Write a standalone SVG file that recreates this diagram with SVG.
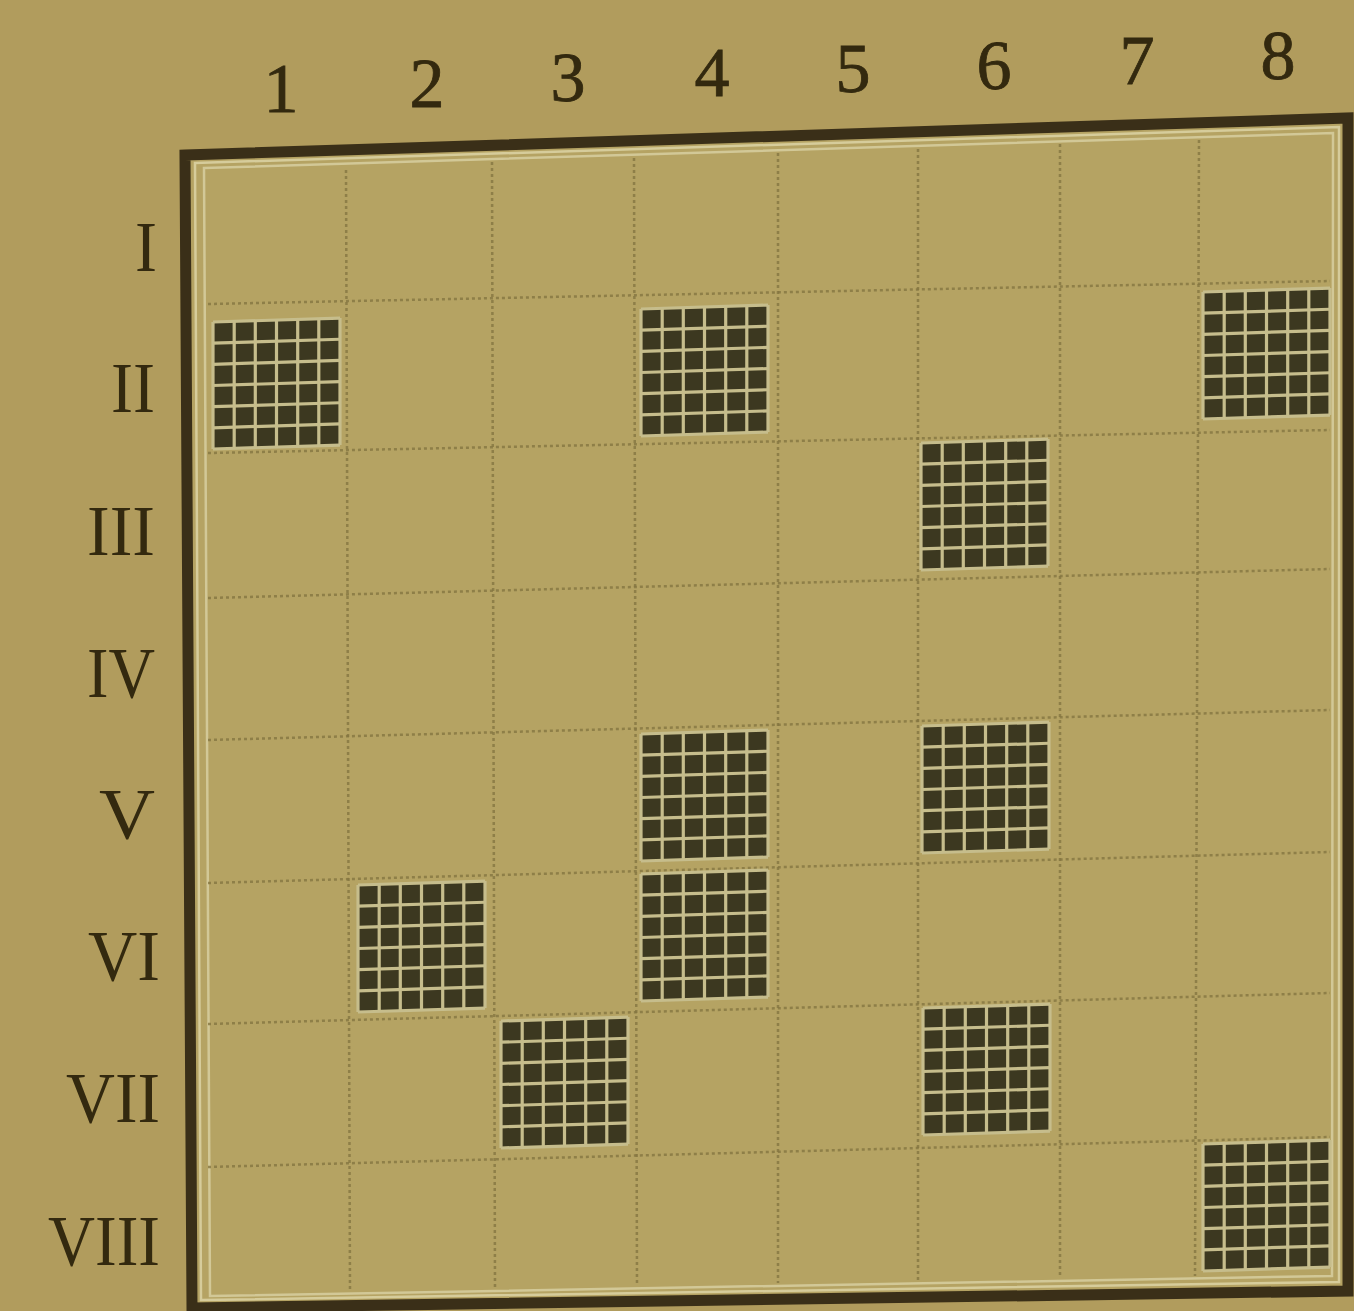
<svg xmlns="http://www.w3.org/2000/svg" xmlns:xlink="http://www.w3.org/1999/xlink" width="1354" height="1311" viewBox="0 0 1354 1311">
<style>
.num{font-family:"Liberation Serif","DejaVu Serif",serif;font-size:70px;fill:#33290f;text-anchor:middle;stroke:#33290f;stroke-width:0.8}
.rom{font-family:"Liberation Serif","DejaVu Serif",serif;font-size:72px;fill:#33290f;text-anchor:end}
.dot{stroke:#857541;stroke-width:2.5;stroke-dasharray:3 3;fill:none;opacity:.8}
.frame{fill:none;stroke-linejoin:miter}
</style>
<defs>
<g id="blk">
<rect x="0" y="0" width="127" height="127" fill="#3c3820"/>
<g stroke="#c6bd8c" stroke-width="3.2">
<line x1="0" y1="0" x2="0" y2="127"/><line x1="21.2" y1="0" x2="21.2" y2="127"/><line x1="42.3" y1="0" x2="42.3" y2="127"/><line x1="63.5" y1="0" x2="63.5" y2="127"/><line x1="84.7" y1="0" x2="84.7" y2="127"/><line x1="105.8" y1="0" x2="105.8" y2="127"/><line x1="127" y1="0" x2="127" y2="127"/>
<line x1="0" y1="0" x2="127" y2="0"/><line x1="0" y1="21.2" x2="127" y2="21.2"/><line x1="0" y1="42.3" x2="127" y2="42.3"/><line x1="0" y1="63.5" x2="127" y2="63.5"/><line x1="0" y1="84.7" x2="127" y2="84.7"/><line x1="0" y1="105.8" x2="127" y2="105.8"/><line x1="0" y1="127" x2="127" y2="127"/>
</g>
</g>
</defs>
<rect x="0" y="0" width="1354" height="1311" fill="#b19c5d"/>
<g id="board">
<polygon points="185,155 1348,118 1348,1291 192,1308" fill="#b5a363"/>
<polygon class="frame" points="185,155 1348,118 1348,1291 192,1308" stroke="#3a2f18" stroke-width="11"/>
<polygon class="frame" points="195,163 1339,127 1339,1282 201,1300" stroke="#d6cc9b" stroke-width="2.5"/>
<polygon class="frame" points="204,168 1333,133 1332,1276 210,1296" stroke="#d2c897" stroke-width="2.5"/>
</g>
<g id="gridlines">
<line class="dot" x1="346" y1="170" x2="350" y2="1290"/>
<line class="dot" x1="492" y1="162" x2="495" y2="1288"/>
<line class="dot" x1="634" y1="158" x2="637" y2="1285"/>
<line class="dot" x1="778" y1="153" x2="778" y2="1283"/>
<line class="dot" x1="918" y1="149" x2="918" y2="1280"/>
<line class="dot" x1="1060" y1="144" x2="1060" y2="1278"/>
<line class="dot" x1="1199" y1="140" x2="1195" y2="1276"/>
<line class="dot" x1="208" y1="304" x2="1330" y2="281"/>
<line class="dot" x1="208" y1="453" x2="1330" y2="430"/>
<line class="dot" x1="208" y1="598" x2="1330" y2="569"/>
<line class="dot" x1="208" y1="740" x2="1330" y2="710"/>
<line class="dot" x1="208" y1="883" x2="1330" y2="852"/>
<line class="dot" x1="208" y1="1024" x2="1330" y2="993"/>
<line class="dot" x1="208" y1="1167" x2="1330" y2="1137"/>
</g>
<g id="blocks">
<use id="b-II-1" xlink:href="#blk" href="#blk" transform="translate(213,322) skewY(-1.78)"/>
<use id="b-II-4" xlink:href="#blk" href="#blk" transform="translate(641,309) skewY(-1.78)"/>
<use id="b-II-8" xlink:href="#blk" href="#blk" transform="translate(1203,292) skewY(-1.78)"/>
<use id="b-III-6" xlink:href="#blk" href="#blk" transform="translate(921,443) skewY(-1.78)"/>
<use id="b-V-4" xlink:href="#blk" href="#blk" transform="translate(641,734) skewY(-1.78)"/>
<use id="b-V-6" xlink:href="#blk" href="#blk" transform="translate(922,726) skewY(-1.78)"/>
<use id="b-VI-2" xlink:href="#blk" href="#blk" transform="translate(358,885) skewY(-1.78)"/>
<use id="b-VI-4" xlink:href="#blk" href="#blk" transform="translate(641,874) skewY(-1.78)"/>
<use id="b-VII-3" xlink:href="#blk" href="#blk" transform="translate(501,1021) skewY(-1.78)"/>
<use id="b-VII-6" xlink:href="#blk" href="#blk" transform="translate(923,1008) skewY(-1.78)"/>
<use id="b-VIII-8" xlink:href="#blk" href="#blk" transform="translate(1203,1144) skewY(-1.78)"/>
</g>
<g id="col-labels">
<text class="num" x="281" y="112">1</text>
<text class="num" x="427" y="107">2</text>
<text class="num" x="568" y="101">3</text>
<text class="num" x="712" y="96">4</text>
<text class="num" x="853" y="92">5</text>
<text class="num" x="994" y="89">6</text>
<text class="num" x="1137" y="84">7</text>
<text class="num" x="1278" y="79">8</text>
</g>
<g id="row-labels">
<text class="rom" x="157" y="271" textLength="22" lengthAdjust="spacingAndGlyphs">I</text>
<text class="rom" x="155" y="412" textLength="44" lengthAdjust="spacingAndGlyphs">II</text>
<text class="rom" x="155" y="555" textLength="68" lengthAdjust="spacingAndGlyphs">III</text>
<text class="rom" x="155" y="697" textLength="68" lengthAdjust="spacingAndGlyphs">IV</text>
<text class="rom" x="155" y="838" textLength="56" lengthAdjust="spacingAndGlyphs">V</text>
<text class="rom" x="160" y="980" textLength="72" lengthAdjust="spacingAndGlyphs">VI</text>
<text class="rom" x="160" y="1122" textLength="94" lengthAdjust="spacingAndGlyphs">VII</text>
<text class="rom" x="160" y="1265" textLength="112" lengthAdjust="spacingAndGlyphs">VIII</text>
</g>
</svg>
